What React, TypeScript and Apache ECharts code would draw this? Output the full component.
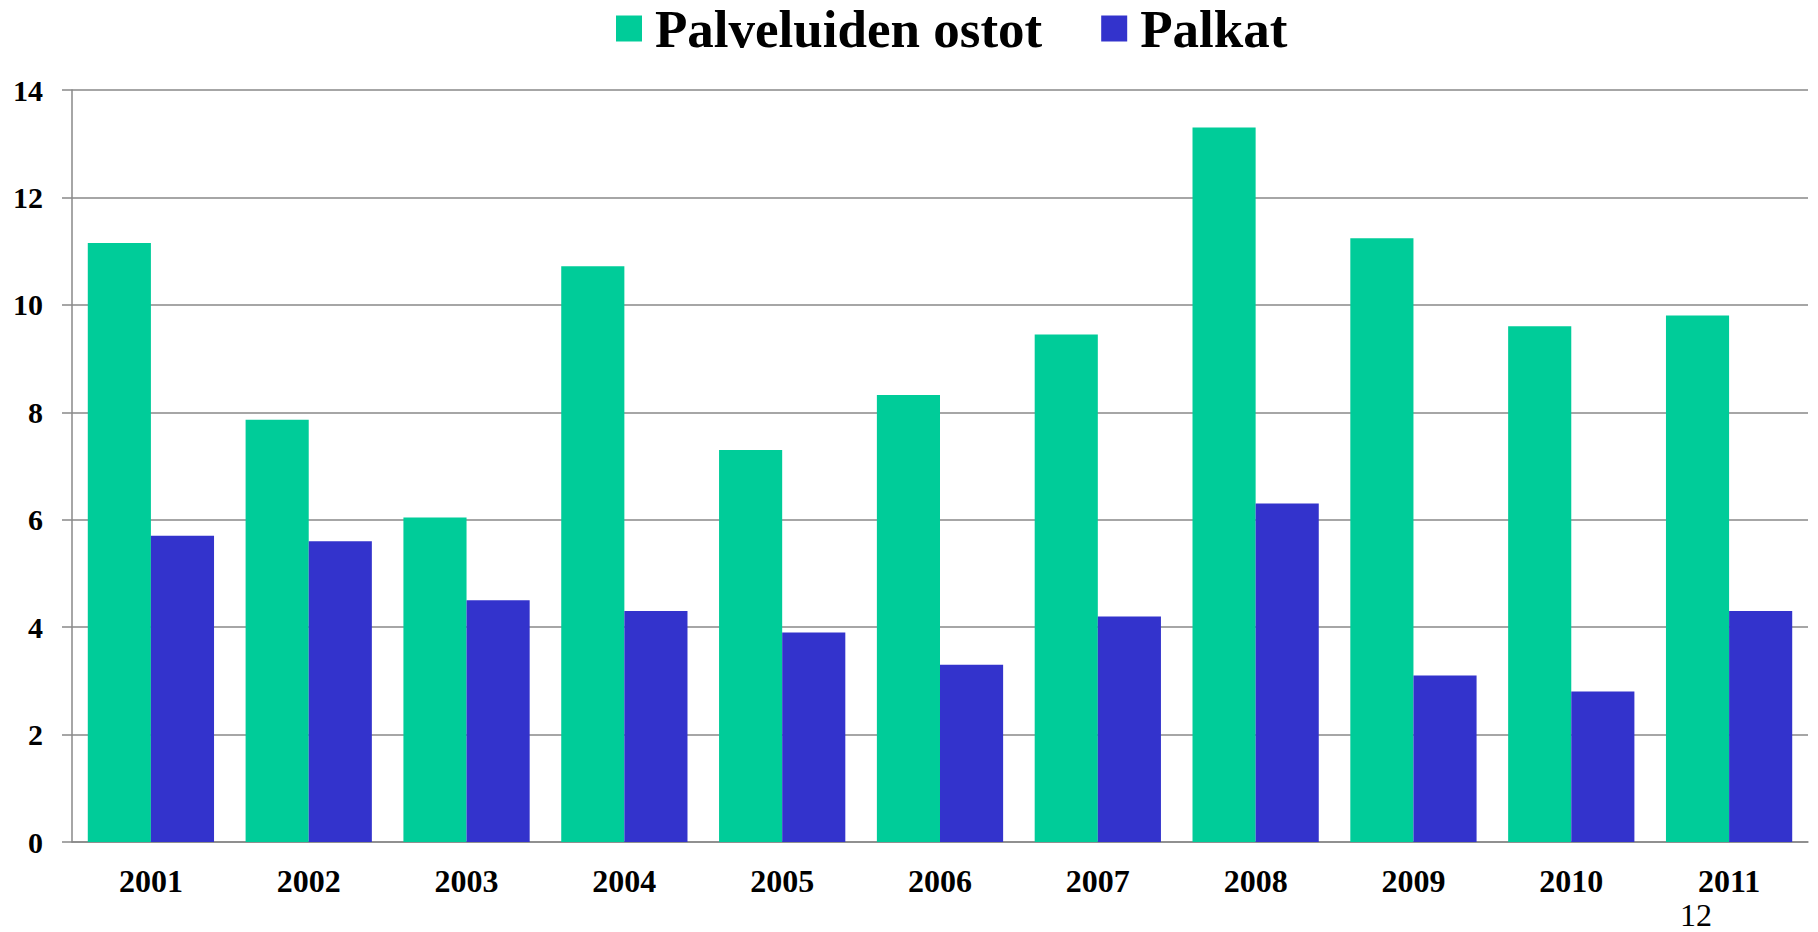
import React, { useEffect, useRef } from "react";
import * as echarts from "echarts";

const categories = ["2001", "2002", "2003", "2004", "2005", "2006", "2007", "2008", "2009", "2010", "2011"];
const palveluidenOstot = [11.15, 7.86, 6.04, 10.72, 7.3, 8.32, 9.45, 13.3, 11.24, 9.6, 9.8];
const palkat = [5.7, 5.6, 4.5, 4.3, 3.9, 3.3, 4.2, 6.3, 3.1, 2.8, 4.3];
const seriesNames = ["Palveluiden ostot", "Palkat"];
const seriesColors = ["#00CC99", "#3333CC"];
const pageNumber = "12";

const FONT = '"Times New Roman", "Liberation Serif", serif';

export default function App() {
  const ref = useRef<HTMLDivElement>(null);

  useEffect(() => {
    document.body.style.margin = "0";
    const chart = echarts.init(ref.current!, null, { renderer: "svg" });
    chart.setOption({
      animation: false,
      backgroundColor: "#ffffff",
      textStyle: { fontFamily: FONT },
      legend: {
        left: 616,
        top: 2,
        padding: 0,
        itemWidth: 26,
        itemHeight: 26,
        itemGap: 59,
        icon: "rect",
        textStyle: {
          fontFamily: FONT,
          fontSize: 53,
          fontWeight: "bold",
          color: "#000",
          padding: [0, 0, 0, 8],
        },
        data: seriesNames,
      },
      grid: { left: 72, right: 10, top: 90, bottom: 90, containLabel: false },
      xAxis: {
        type: "category",
        data: categories,
        axisLine: { show: true, lineStyle: { color: "#888", width: 1.5 } },
        axisTick: { show: false },
        axisLabel: {
          fontFamily: FONT,
          fontSize: 32,
          fontWeight: "bold",
          color: "#000",
          margin: 23,
        },
      },
      yAxis: {
        type: "value",
        min: 0,
        max: 14,
        interval: 2,
        axisLine: { show: true, lineStyle: { color: "#888", width: 1.5 } },
        axisTick: { show: true, length: 10, lineStyle: { color: "#888", width: 1.5 } },
        splitLine: { show: true, lineStyle: { color: "#888", width: 1.5 } },
        axisLabel: {
          fontFamily: FONT,
          fontSize: 30,
          fontWeight: "bold",
          color: "#000",
          margin: 29,
        },
      },
      series: [
        {
          name: seriesNames[0],
          type: "bar",
          data: palveluidenOstot,
          itemStyle: { color: seriesColors[0] },
          barGap: "0%",
          barCategoryGap: "20%",
        },
        {
          name: seriesNames[1],
          type: "bar",
          data: palkat,
          itemStyle: { color: seriesColors[1] },
          barGap: "0%",
          barCategoryGap: "20%",
        },
      ],
      graphic: [
        {
          type: "text",
          x: 1696,
          y: 915,
          style: {
            text: pageNumber,
            fontFamily: FONT,
            fontSize: 32,
            lineHeight: 26,
            fill: "#000",
            align: "center",
            verticalAlign: "middle",
          },
        },
      ],
    });
    return () => chart.dispose();
  }, []);

  return (
    <div
      ref={ref}
      style={{ position: "fixed", left: 0, top: 0, width: 1818, height: 932 }}
    />
  );
}
